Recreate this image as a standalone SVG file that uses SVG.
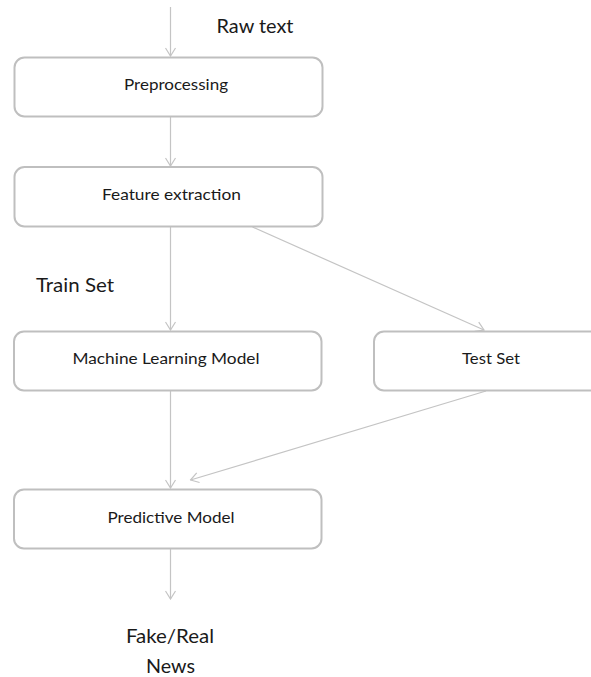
<svg xmlns="http://www.w3.org/2000/svg" width="591" height="677" viewBox="0 0 591 677">
  <defs>
    <style>
      .box { fill: #ffffff; stroke: #bfbfbf; stroke-width: 2; }
      .edge { fill: none; stroke: #c4c4c4; stroke-width: 1.2; }
      .lbl { font-family: "Lato", "Liberation Sans", sans-serif; font-size: 16px; fill: #1a1a1a; text-anchor: middle; }
      .big { font-family: "Lato", "Liberation Sans", sans-serif; font-size: 20px; fill: #1a1a1a; text-anchor: middle; }
    </style>
    <marker id="chev" viewBox="0 0 10 12" refX="9" refY="6" markerWidth="10" markerHeight="12" markerUnits="userSpaceOnUse" orient="auto">
      <path d="M1,1 L9,6 L1,11" fill="none" stroke="#c4c4c4" stroke-width="1.2"/>
    </marker>
  </defs>
  <rect width="591" height="677" fill="#ffffff"/>

  <!-- connectors -->
  <g id="connectors">
    <line class="edge" x1="170.5" y1="7" x2="170.5" y2="56" marker-end="url(#chev)"/>
    <line class="edge" x1="170.5" y1="117" x2="170.5" y2="166" marker-end="url(#chev)"/>
    <line class="edge" x1="170.5" y1="227" x2="170.5" y2="330" marker-end="url(#chev)"/>
    <line class="edge" x1="252.5" y1="227" x2="484" y2="330" marker-end="url(#chev)"/>
    <line class="edge" x1="170.5" y1="391" x2="170.5" y2="488" marker-end="url(#chev)"/>
    <line class="edge" x1="486" y1="391" x2="190.5" y2="480" marker-end="url(#chev)"/>
    <line class="edge" x1="170.5" y1="549" x2="170.5" y2="599" marker-end="url(#chev)"/>
  </g>

  <!-- free labels -->
  <text id="raw-text" class="big" x="255" y="33" textLength="77" lengthAdjust="spacingAndGlyphs">Raw text</text>
  <text id="train-set" class="big" x="75" y="292" textLength="78" lengthAdjust="spacingAndGlyphs">Train Set</text>
  <g id="output">
    <text class="big" x="170" y="643" textLength="88" lengthAdjust="spacingAndGlyphs">Fake/Real</text>
    <text class="big" x="170.5" y="673" textLength="49" lengthAdjust="spacingAndGlyphs">News</text>
  </g>

  <!-- nodes -->
  <g id="preprocessing">
    <rect class="box" x="14.5" y="57.5" width="308" height="59" rx="10"/>
    <text class="lbl" x="176" y="90" textLength="104" lengthAdjust="spacingAndGlyphs">Preprocessing</text>
  </g>
  <g id="feature-extraction">
    <rect class="box" x="14.5" y="167" width="308" height="59.5" rx="10"/>
    <text class="lbl" x="171.5" y="200" textLength="139" lengthAdjust="spacingAndGlyphs">Feature extraction</text>
  </g>
  <g id="ml-model">
    <rect class="box" x="14" y="331.5" width="307.5" height="59" rx="10"/>
    <text class="lbl" x="166" y="364" textLength="187" lengthAdjust="spacingAndGlyphs">Machine Learning Model</text>
  </g>
  <g id="test-set">
    <rect class="box" x="374" y="331.5" width="234" height="59" rx="10"/>
    <text class="lbl" x="491" y="364" textLength="58" lengthAdjust="spacingAndGlyphs">Test Set</text>
  </g>
  <g id="predictive-model">
    <rect class="box" x="14" y="489.5" width="307.5" height="59" rx="10"/>
    <text class="lbl" x="171" y="523" textLength="127" lengthAdjust="spacingAndGlyphs">Predictive Model</text>
  </g>
</svg>
